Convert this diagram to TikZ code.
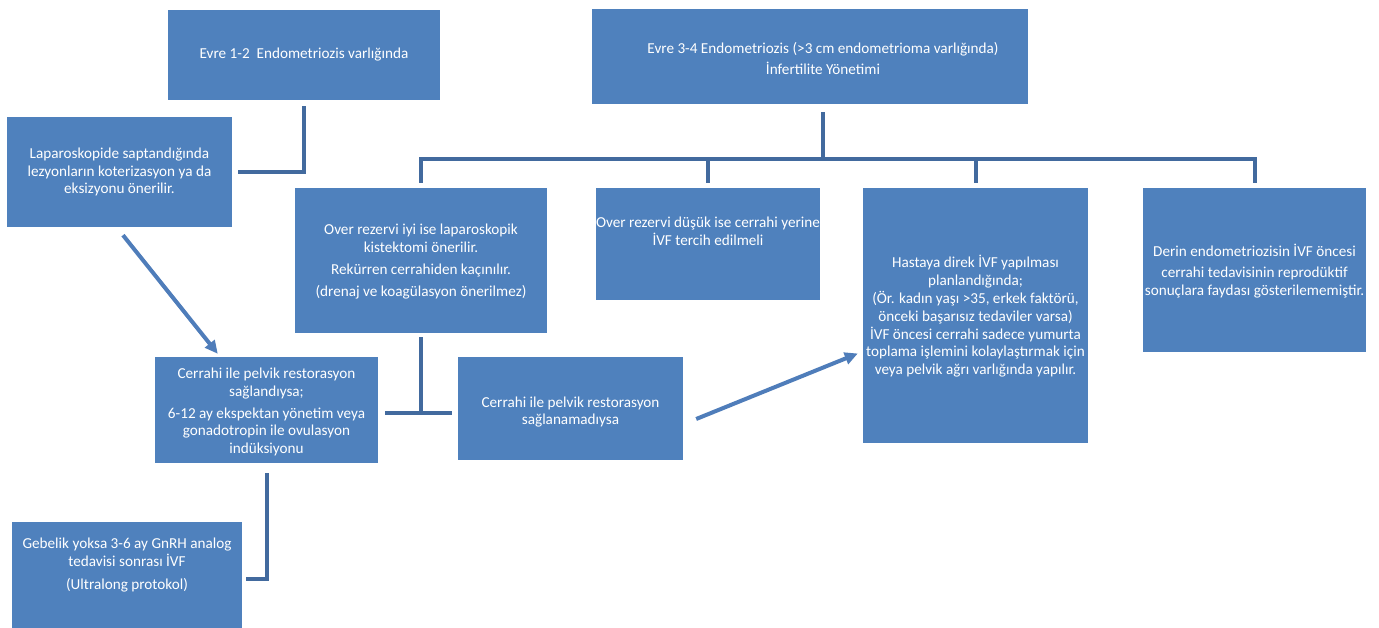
\documentclass[tikz,border=0pt]{standalone}
\usepackage{fontspec}
\setmainfont{Carlito}
\usetikzlibrary{calc,arrows.meta}
\definecolor{boxblue}{RGB}{79,129,189}
\definecolor{linkblue}{RGB}{66,106,158}
\definecolor{arrowblue}{RGB}{79,125,186}
\begin{document}
\begin{tikzpicture}[x=1pt,y=-1pt,
  box/.style={rectangle, fill=boxblue, draw=none, inner sep=0pt},
  txt/.style={text=white, align=center, inner sep=0pt,
    font=\fontsize{15.2}{17.8}\selectfont},
  elbow/.style={draw=linkblue, line width=4pt},
  flow/.style={draw=arrowblue, line width=4pt,
    -{Triangle[length=13pt,width=12pt]}}]
\fill[white] (0,0) rectangle (1379,628);
\useasboundingbox (0,0) rectangle (1379,628);

% boxes
\node[box, minimum width=272, minimum height=90]  (A) at (304,55) {};
\node[box, minimum width=436, minimum height=95]  (C) at (810,56.5) {};
\node[box, minimum width=225, minimum height=110] (B) at (119.5,172) {};
\node[box, minimum width=252, minimum height=145] (D) at (421,260.5) {};
\node[box, minimum width=224, minimum height=112] (E) at (708,244) {};
\node[box, minimum width=225, minimum height=255] (F) at (975.5,315.5) {};
\node[box, minimum width=223, minimum height=164] (G) at (1254.5,270) {};
\node[box, minimum width=223, minimum height=106] (H) at (266.5,410) {};
\node[box, minimum width=225, minimum height=103] (I) at (570.5,408.5) {};
\node[box, minimum width=230, minimum height=114] (J) at (127,579) {};

% box texts
\node[txt] (tA) at (A.center) {Evre 1-2~~Endometriozis varlığında};
\node[txt] (tC) at ($(C.center)+(13,2)$) {Evre 3-4 Endometriozis (>3 cm endometrioma varlığında)\\[4pt]İnfertilite Yönetimi};
\node[txt] (tB) at (B.center) {Laparoskopide saptandığında\\lezyonların koterizasyon ya da\\eksizyonu önerilir.};
\node[txt] (tD) at ($(D.center)+(0,1)$) {Over rezervi iyi ise laparoskopik\\kistektomi önerilir.\\[5pt]Rekürren cerrahiden kaçınılır.\\[4pt](drenaj ve koagülasyon önerilmez)};
\node[txt] (tE) at ($(E.center)+(0,-13)$) {Over rezervi düşük ise cerrahi yerine\\İVF tercih edilmeli};
\node[txt] (tF) at ($(F.center)+(0,1)$) {Hastaya direk İVF yapılması\\planlandığında;\\(Ör. kadın yaşı >35, erkek faktörü,\\önceki başarısız tedaviler varsa)\\İVF öncesi cerrahi sadece yumurta\\toplama işlemini kolaylaştırmak için\\veya pelvik ağrı varlığında yapılır.};
\node[txt] (tG) at ($(G.center)+(0,1)$) {Derin endometriozisin İVF öncesi\\[3pt]cerrahi tedavisinin reprodüktif\\sonuçlara faydası gösterilememiştir.};
\node[txt] (tH) at ($(H.center)+(0,2)$) {Cerrahi ile pelvik restorasyon\\sağlandıysa;\\[4pt]6-12 ay ekspektan yönetim veya\\gonadotropin ile ovulasyon\\indüksiyonu};
\node[txt] (tI) at ($(I.center)+(0,3.5)$) {Cerrahi ile pelvik restorasyon\\sağlanamadıysa};
\node[txt] (tJ) at ($(J.center)+(0,-14)$) {Gebelik yoksa 3-6 ay GnRH analog\\tedavisi sonrası İVF\\[5pt](Ultralong protokol)};

% elbow connectors
\draw[elbow] ($(A.south)+(0,6)$) |- ($(B.east)+(6,0)$);
\coordinate (bus) at (823,159);
\draw[elbow] ($(bus |- C.south)+(0,8)$) -- (bus);
\draw[elbow] ($(D.north)+(0,-5)$) -- (D.north |- bus) -- (G.north |- bus) -- ($(G.north)+(0,-5)$);
\draw[elbow] (E.north |- bus) -- ($(E.north)+(0,-5)$);
\draw[elbow] (F.north |- bus) -- ($(F.north)+(0,-5)$);
\coordinate (tee) at ($(D.south)+(0,80)$);
\draw[elbow] ($(D.south)+(0,4)$) -- (tee);
\draw[elbow] ($(H.east |- tee)+(7,0)$) -- ($(I.west |- tee)+(-6,0)$);
\draw[elbow] ($(H.south)+(0,10)$) |- ($(J.east)+(4,0)$);

% arrows
\draw[flow] ($(B.south)+(3.5,8)$) -- ($(H.north west)+(63,-3)$);
\draw[flow] ($(I.east)+(13,10.5)$) -- ($(F.west)+(-5,38)$);
\end{tikzpicture}
\end{document}
